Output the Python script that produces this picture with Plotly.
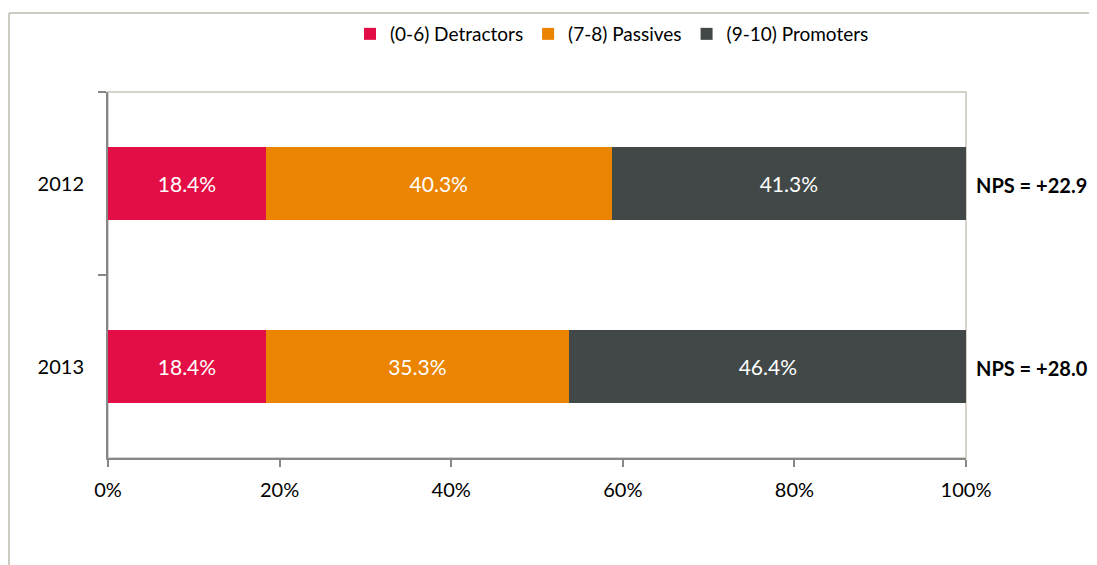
import plotly.graph_objects as go

YEARS = ["2012", "2013"]
DETRACTORS = [18.4, 18.4]
PASSIVES = [40.3, 35.3]
PROMOTERS = [41.3, 46.4]
SERIES = [
    ("(0-6) Detractors", DETRACTORS, "#E40E46"),
    ("(7-8) Passives", PASSIVES, "#EB8400"),
    ("(9-10) Promoters", PROMOTERS, "#414847"),
]
X_TICKS = [0, 20, 40, 60, 80, 100]

FONT = "Lato, Open Sans, sans-serif"
OFF = 8  # page body margin
W, H = 1097 - OFF, 565 - OFF
L, R, T, B = 100, 131, 84, 107
PW, PH = W - L - R, H - T - B


def px_x(v):
    # page pixel -> paper x
    return (v - OFF - L) / PW


def px_y(v):
    # page pixel -> paper y
    return 1 - (v - OFF - T) / PH


fig = go.Figure()
for name, vals, color in SERIES:
    fig.add_trace(go.Bar(
        y=YEARS, x=vals, name=name, orientation="h",
        marker=dict(color=color, line=dict(width=0)),
        text=[f"{v:.1f}%" for v in vals],
        textposition="inside", insidetextanchor="middle",
        textfont=dict(color="white", size=21, family=FONT),
        width=0.4,
    ))

# NPS = promoters - detractors
for i, (p, d) in enumerate(zip(PROMOTERS, DETRACTORS)):
    fig.add_annotation(
        x=1.0, xref="paper", xshift=8, y=i, yref="y", yshift=-1,
        text=f"<b>NPS = {p - d:+.1f}</b>", showarrow=False,
        xanchor="left", font=dict(size=20, color="black", family=FONT),
    )

# outer frame (top and left edges) and plot area border
fig.add_shape(type="line", xref="paper", yref="paper",
              x0=px_x(9), x1=px_x(1097), y0=px_y(13), y1=px_y(13),
              line=dict(color="#BDB9AE", width=1.5))
fig.add_shape(type="line", xref="paper", yref="paper",
              x0=px_x(9), x1=px_x(9), y0=px_y(13), y1=px_y(570),
              line=dict(color="#BDB9AE", width=1.5))
fig.add_shape(type="rect", xref="paper", yref="paper",
              x0=0, x1=1, y0=0, y1=1, layer="below",
              line=dict(color="#C9C5BA", width=1.5))

fig.update_layout(
    barmode="stack",
    width=W, height=H,
    margin=dict(l=L, r=R, t=T, b=B, autoexpand=False),
    paper_bgcolor="white", plot_bgcolor="white",
    font=dict(family=FONT, size=20, color="black"),
    showlegend=True,
    legend=dict(orientation="h", x=px_x(350), xanchor="left",
                y=px_y(34), yanchor="middle",
                font=dict(size=19, family=FONT), traceorder="normal"),
    xaxis=dict(range=[0, 100], tickvals=X_TICKS,
               ticktext=[f"{t}%" for t in X_TICKS],
               showgrid=False, zeroline=False, showline=True,
               linecolor="#878787", linewidth=2, ticks="outside",
               ticklen=7, tickcolor="#878787", tickwidth=2,
               ticklabelstandoff=6,
               tickfont=dict(size=20), automargin=False),
    yaxis=dict(type="category", range=[1.5, -0.5], showgrid=False,
               zeroline=False, showline=True, linecolor="#878787",
               linewidth=2, ticks="outside", tickson="boundaries",
               ticklen=8, tickcolor="#878787", tickwidth=2,
               ticklabelstandoff=18,
               tickfont=dict(size=20), automargin=False),
)

fig.write_html("out.html")
